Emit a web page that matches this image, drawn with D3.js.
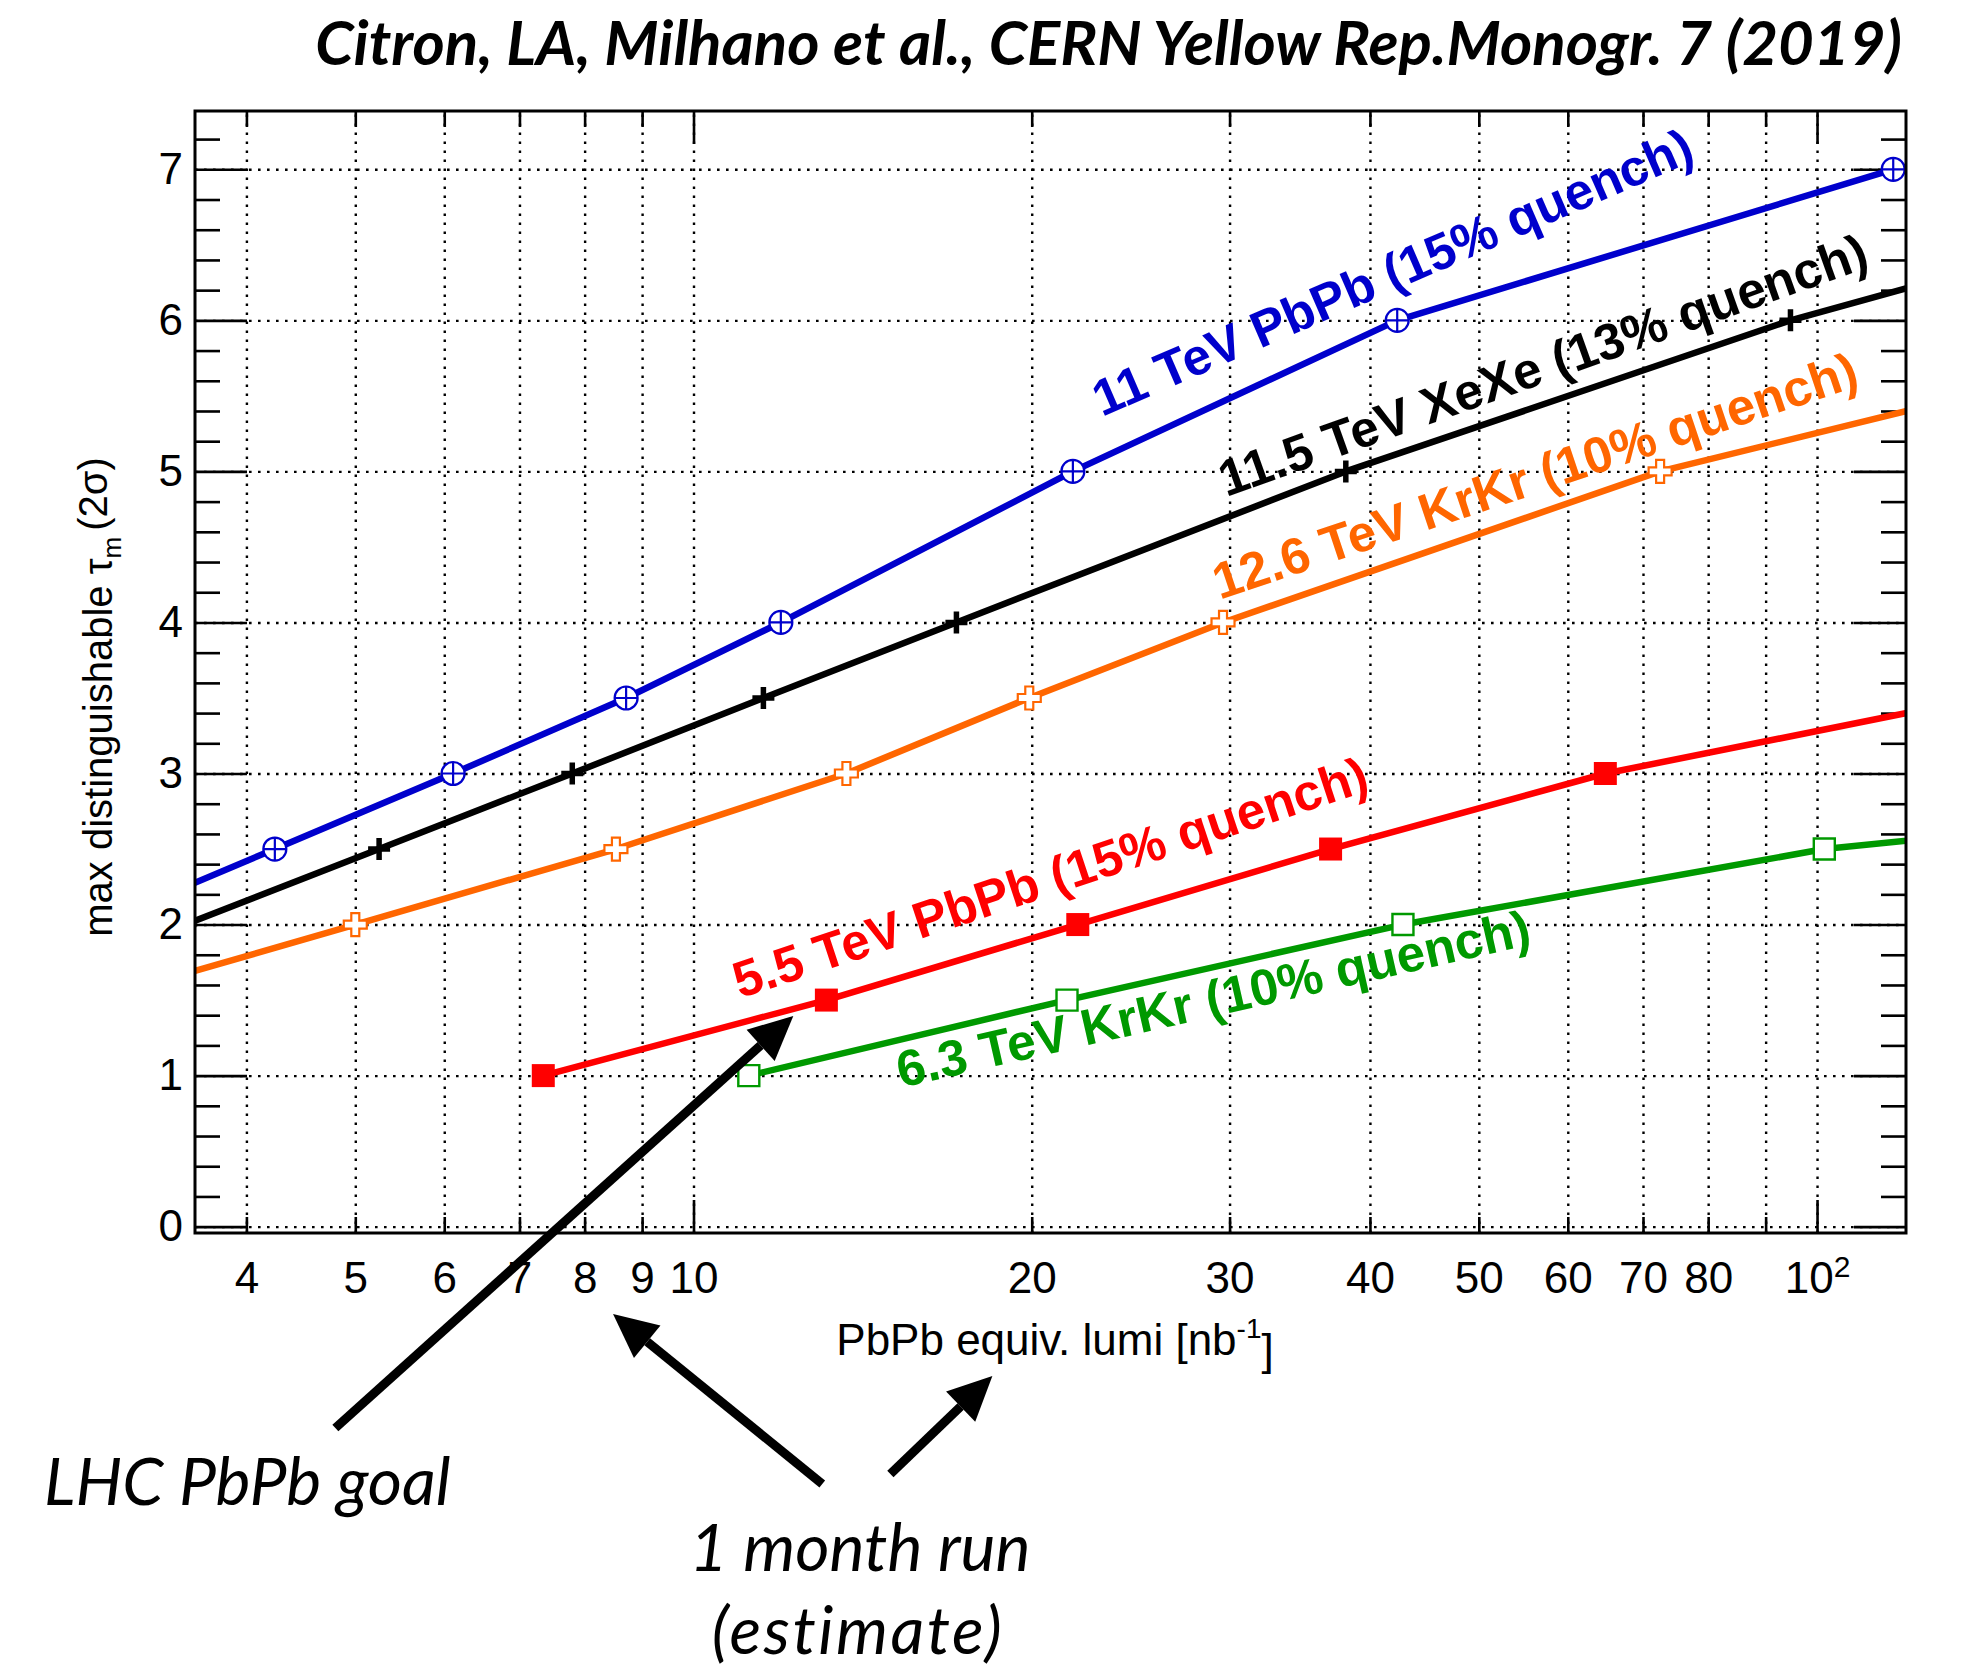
<!DOCTYPE html>
<html>
<head>
<meta charset="utf-8">
<script src="https://cdn.jsdelivr.net/npm/d3@7"></script>
<style>
  html, body { margin: 0; padding: 0; background: #ffffff; }
  svg { display: block; }
</style>
</head>
<body>
<svg id="chart"></svg>
<script>
// ---- data: luminosity (nb^-1) needed to reach a given max distinguishable tau_m ----
const pbpb11X  = [2.94, 4.24, 6.11, 8.71, 11.96, 21.76, 42.3, 116.9, 250];
const pbpb11Y  = [2.0, 2.5, 3.0, 3.5, 4.0, 5.0, 6.0, 7.0, 7.5];
const xexe115X = [3.53, 5.25, 7.80, 11.54, 17.14, 38.07, 94.7, 290];
const xexe115Y = [2.0, 2.5, 3.0, 3.5, 4.0, 5.0, 6.0, 7.0];
const krkr126X = [2.93, 5.0, 8.53, 13.68, 19.9, 29.6, 72.5, 256];
const krkr126Y = [1.5, 2.0, 2.5, 3.0, 3.5, 4.0, 5.0, 6.0];
const pbpb55X  = [7.35, 13.13, 21.98, 36.9, 64.8, 140];
const pbpb55Y  = [1.0, 1.5, 2.0, 2.5, 3.0, 3.5];
const krkr63X  = [11.2, 21.5, 42.8, 101.5, 465];
const krkr63Y  = [1.0, 1.5, 2.0, 2.5, 3.0];

const seriesLabels = [
  "11 TeV PbPb (15% quench)",
  "11.5 TeV XeXe (13% quench)",
  "12.6 TeV KrKr (10% quench)",
  "5.5 TeV PbPb (15% quench)",
  "6.3 TeV KrKr (10% quench)"
];

// axis ticks
const xMinorTicks = [4, 5, 6, 7, 8, 9, 20, 30, 40, 50, 60, 70, 80, 90];
const xMajorTicks = [10, 100];
const xLabelValues = [4, 5, 6, 7, 8, 9, 10, 20, 30, 40, 50, 60, 70, 80, 100];
const xLabelTexts  = ["4", "5", "6", "7", "8", "9", "10", "20", "30", "40", "50", "60", "70", "80", "10^2"];
const yMajorTicks = [0, 1, 2, 3, 4, 5, 6, 7];
const yMinorTicks = [0.2,0.4,0.6,0.8,1.2,1.4,1.6,1.8,2.2,2.4,2.6,2.8,3.2,3.4,3.6,3.8,
                     4.2,4.4,4.6,4.8,5.2,5.4,5.6,5.8,6.2,6.4,6.6,6.8,7.2];

// annotation arrows (data coordinates, tail -> head)
const arrowTailX = [4.8, 13.02, 14.97];
const arrowTailY = [-1.333, -1.704, -1.638];
const arrowHeadX = [12.27, 8.48, 18.45];
const arrowHeadY = [1.395, -0.578, -0.989];

// ---- styles ----
const W = 1962, H = 1668;
const plot = { left: 195, right: 1906, top: 111, bottom: 1233 };
const series = [
  { x: pbpb11X,  y: pbpb11Y,  color: "#0000cc", marker: "circlePlus", label: { x: 23.1, y: 5.36, angle: 23.4 } },
  { x: xexe115X, y: xexe115Y, color: "#000000", marker: "plus",       label: { x: 29.8, y: 4.83, angle: 19.7 } },
  { x: krkr126X, y: krkr126Y, color: "#ff6600", marker: "openCross",  label: { x: 29.4, y: 4.15, angle: 18.5 } },
  { x: pbpb55X,  y: pbpb55Y,  color: "#ff0000", marker: "square",     label: { x: 11.0, y: 1.51, angle: 18.3 } },
  { x: krkr63X,  y: krkr63Y,  color: "#009900", marker: "openSquare", label: { x: 15.3, y: 0.92, angle: 12.8 } }
];

const svg = d3.select("#chart").attr("width", W).attr("height", H)
  .attr("viewBox", `0 0 ${W} ${H}`);
svg.append("rect").attr("width", W).attr("height", H).attr("fill", "#fff");

const x = d3.scaleLog().domain([3.6, 120]).range([plot.left, plot.right]);
const y = d3.scaleLinear().domain([-0.042, 7.386]).range([plot.bottom, plot.top]);
const plotW = plot.right - plot.left, plotH = plot.bottom - plot.top;

svg.append("defs").append("clipPath").attr("id", "plotClip")
  .append("rect").attr("x", plot.left).attr("y", plot.top)
  .attr("width", plotW).attr("height", plotH);

const axisFont = "'Liberation Sans', Arial, Helvetica, sans-serif";

// ---- grid ----
const gridX = svg.append("g").attr("transform", `translate(0,${plot.bottom})`)
  .call(d3.axisBottom(x).tickValues(xMinorTicks.concat(xMajorTicks))
    .tickSizeInner(-plotH).tickSizeOuter(0).tickFormat(""));
const gridY = svg.append("g").attr("transform", `translate(${plot.left},0)`)
  .call(d3.axisLeft(y).tickValues(yMajorTicks)
    .tickSizeInner(-plotW).tickSizeOuter(0).tickFormat(""));
[gridX, gridY].forEach(g => {
  g.select(".domain").remove();
  g.selectAll(".tick line").attr("stroke", "#000").attr("stroke-width", 2.4)
    .attr("stroke-dasharray", "2.6,6.4");
});

// ---- tick marks (inside, on all four sides) ----
function ticks(axisGen, tr, values, len) {
  const g = svg.append("g").attr("transform", tr)
    .call(axisGen.tickValues(values).tickSizeInner(-len).tickSizeOuter(0).tickFormat(""));
  g.select(".domain").remove();
  g.selectAll(".tick line").attr("stroke", "#000").attr("stroke-width", 2.6);
}
ticks(d3.axisBottom(x), `translate(0,${plot.bottom})`, xMinorTicks, 16);
ticks(d3.axisBottom(x), `translate(0,${plot.bottom})`, xMajorTicks, 33);
ticks(d3.axisTop(x),    `translate(0,${plot.top})`,    xMinorTicks, 16);
ticks(d3.axisTop(x),    `translate(0,${plot.top})`,    xMajorTicks, 33);
ticks(d3.axisLeft(y),   `translate(${plot.left},0)`,   yMajorTicks, 52);
ticks(d3.axisLeft(y),   `translate(${plot.left},0)`,   yMinorTicks, 25);
ticks(d3.axisRight(y),  `translate(${plot.right},0)`,  yMajorTicks, 52);
ticks(d3.axisRight(y),  `translate(${plot.right},0)`,  yMinorTicks, 25);

// ---- tick labels ----
const xLab = svg.append("g").attr("transform", `translate(0,${plot.bottom})`)
  .call(d3.axisBottom(x).tickValues(xLabelValues).tickSize(0).tickPadding(29)
    .tickFormat(d => xLabelTexts[xLabelValues.indexOf(d)]));
xLab.select(".domain").remove();
xLab.selectAll("text").attr("font-family", axisFont).attr("font-size", 44).attr("fill", "#000")
  .each(function(d) {
    const t = d3.select(this), s = t.text();
    if (s.includes("^")) {
      const [base, exp] = s.split("^");
      t.text(base);
      t.append("tspan").attr("dy", "-0.55em").attr("font-size", 30).text(exp);
    }
  });

const yLab = svg.append("g").attr("transform", `translate(${plot.left},0)`)
  .call(d3.axisLeft(y).tickValues(yMajorTicks).tickSize(0).tickPadding(12).tickFormat(d3.format("d")));
yLab.select(".domain").remove();
yLab.selectAll("text").attr("font-family", axisFont).attr("font-size", 44).attr("fill", "#000");

// ---- axis titles ----
const xTitle = svg.append("text").attr("x", 1055).attr("y", 1355)
  .attr("text-anchor", "middle").attr("font-family", axisFont).attr("font-size", 44);
xTitle.append("tspan").text("PbPb equiv. lumi [nb");
xTitle.append("tspan").attr("dy", "-0.6em").attr("font-size", 28).text("-1");
xTitle.append("tspan").attr("dy", "0.6em").text("]");

const yTitle = svg.append("text")
  .attr("transform", "translate(112,697) rotate(-90)")
  .attr("text-anchor", "middle").attr("font-family", axisFont).attr("font-size", 40);
yTitle.append("tspan").text("max distinguishable \u03c4");
yTitle.append("tspan").attr("dy", "0.35em").attr("font-size", 26).text("m");
yTitle.append("tspan").attr("dy", "-0.35em").attr("dx", 6).text("(2\u03c3)");

// ---- curves ----
const curveLayer = svg.append("g").attr("clip-path", "url(#plotClip)");
const line = d3.line().x(d => x(d[0])).y(d => y(d[1]));

const markerShapes = {
  circlePlus: { d: "M-11.5,0A11.5,11.5 0 1 0 11.5,0A11.5,11.5 0 1 0 -11.5,0ZM-11.5,0H11.5M0,-11.5V11.5", fill: "#fff", sw: 2.2 },
  plus:       { d: "M-11,0H11M0,-11V11", fill: "none", sw: 5.5 },
  openCross:  { d: "M-4,-11.5H4V-4H11.5V4H4V11.5H-4V4H-11.5V-4H-4Z", fill: "#fff", sw: 2.2 },
  square:     { d: "M-11.5,-11.5H11.5V11.5H-11.5Z", fill: "fill", sw: 0 },
  openSquare: { d: "M-10.5,-10.5H10.5V10.5H-10.5Z", fill: "#fff", sw: 2.4 }
};

series.forEach(s => {
  const pts = s.x.map((v, i) => [v, s.y[i]]);
  curveLayer.append("path").datum(pts).attr("d", line)
    .attr("fill", "none").attr("stroke", s.color).attr("stroke-width", 6.5)
    .attr("stroke-linejoin", "round");
  const m = markerShapes[s.marker];
  curveLayer.selectAll(null).data(pts).join("path")
    .attr("transform", d => `translate(${x(d[0])},${y(d[1])})`)
    .attr("d", m.d)
    .attr("fill", m.fill === "fill" ? s.color : m.fill)
    .attr("stroke", s.color).attr("stroke-width", m.sw);
});

// ---- curve labels ----
series.forEach((s, i) => {
  svg.append("text")
    .attr("transform", `translate(${x(s.label.x)},${y(s.label.y)}) rotate(${-s.label.angle})`)
    .attr("font-family", axisFont).attr("font-weight", "bold").attr("font-size", 51)
    .attr("fill", s.color).text(seriesLabels[i]);
});

// ---- frame ----
svg.append("rect").attr("x", plot.left).attr("y", plot.top)
  .attr("width", plotW).attr("height", plotH)
  .attr("fill", "none").attr("stroke", "#000").attr("stroke-width", 3);

// ---- arrows ----
const arrowLayer = svg.append("g");
arrowTailX.forEach((tx, i) => {
  const x0 = x(tx), y0 = y(arrowTailY[i]);
  const x1 = x(arrowHeadX[i]), y1 = y(arrowHeadY[i]);
  const ang = Math.atan2(y1 - y0, x1 - x0);
  const headLen = 44, headHalf = 21;
  const bx = x1 - headLen * Math.cos(ang), by = y1 - headLen * Math.sin(ang);
  arrowLayer.append("line").attr("x1", x0).attr("y1", y0).attr("x2", bx).attr("y2", by)
    .attr("stroke", "#000").attr("stroke-width", 9);
  const px = -Math.sin(ang) * headHalf, py = Math.cos(ang) * headHalf;
  arrowLayer.append("path")
    .attr("d", `M${x1},${y1}L${bx + px},${by + py}L${bx - px},${by - py}Z`)
    .attr("fill", "#000");
});

// ---- reference and annotations ----
const noteFont = "Lato, 'Open Sans', sans-serif";
svg.append("text").attr("x", 1902).attr("y", 65).attr("text-anchor", "end")
  .attr("font-family", noteFont).attr("font-style", "italic").attr("font-weight", "bold")
  .attr("font-size", 61.8).text("Citron, LA, Milhano et al., CERN Yellow Rep.Monogr. 7 (2019)");
svg.append("text").attr("x", 44).attr("y", 1505)
  .attr("font-family", noteFont).attr("font-style", "italic").attr("font-size", 66)
  .text("LHC PbPb goal");
svg.append("text").attr("x", 860).attr("y", 1571).attr("text-anchor", "middle")
  .attr("font-family", noteFont).attr("font-style", "italic").attr("font-size", 66)
  .text("1 month run");
svg.append("text").attr("x", 858).attr("y", 1654).attr("text-anchor", "middle")
  .attr("font-family", noteFont).attr("font-style", "italic").attr("font-size", 66)
  .attr("letter-spacing", 2.5).text("(estimate)");
</script>
</body>
</html>
